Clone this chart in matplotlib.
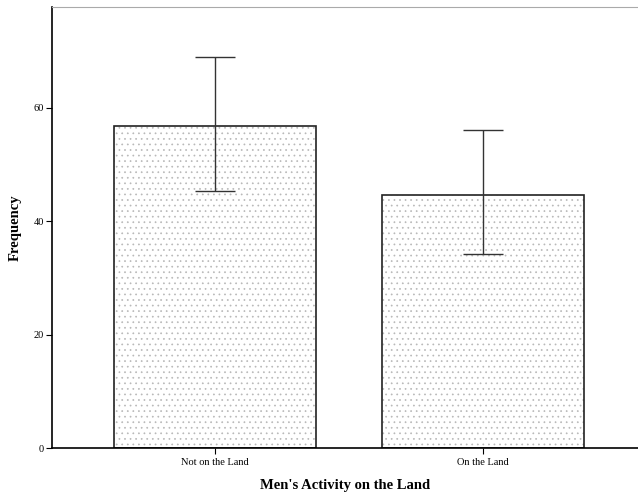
import matplotlib
matplotlib.use("Agg")
import matplotlib.pyplot as plt

categories = ["Not on the Land", "On the Land"]
frequency = [56.8, 44.6]
err_low = [45.4, 34.2]
err_high = [69.0, 56.1]
y_ticks = [0, 20, 40, 60]

plt.rcParams["font.family"] = ["Liberation Serif", "DejaVu Serif"]
plt.rcParams["hatch.linewidth"] = 0.5

fig = plt.figure(figsize=(6.38, 4.94), dpi=100)
ax = fig.add_axes([52 / 638, 46 / 494, 1 - 52 / 638, 441 / 494])

x = list(range(len(categories)))
lower = [f - lo for f, lo in zip(frequency, err_low)]
upper = [hi - f for f, hi in zip(frequency, err_high)]

# stipple fill (hatch takes the edge colour), then the dark outline on top
ax.bar(x, frequency, width=0.754, facecolor="white", edgecolor="#b8b8b8",
       linewidth=0, hatch="...", zorder=2)
ax.bar(x, frequency, width=0.754, fill=False, edgecolor="#222222",
       linewidth=1.2, zorder=2)
ax.errorbar(x, frequency, yerr=[lower, upper], fmt="none", ecolor="#333333",
            elinewidth=1.0, capsize=14.5, capthick=1.0, zorder=3)

ax.set_xlim(-0.608, 1.578)
ax.set_ylim(0, 77.8)
ax.set_yticks(y_ticks)
ax.set_xticks(x)
ax.set_xticklabels(categories, fontsize=7.5)
ax.tick_params(axis="y", labelsize=7.5, length=4, width=0.8, direction="out", pad=2)
ax.tick_params(axis="x", length=4, width=0.8, direction="out", pad=3)

ax.set_xlabel("Men's Activity on the Land", fontsize=10.5, fontweight="bold", labelpad=9)
ax.set_ylabel("Frequency", fontsize=10.5, fontweight="bold", labelpad=8)

ax.spines["right"].set_visible(False)
ax.spines["top"].set_color("#aaaaaa")
ax.spines["top"].set_linewidth(0.8)
ax.spines["left"].set_linewidth(1.2)
ax.spines["bottom"].set_linewidth(1.2)

fig.savefig("out.png", dpi=100)
